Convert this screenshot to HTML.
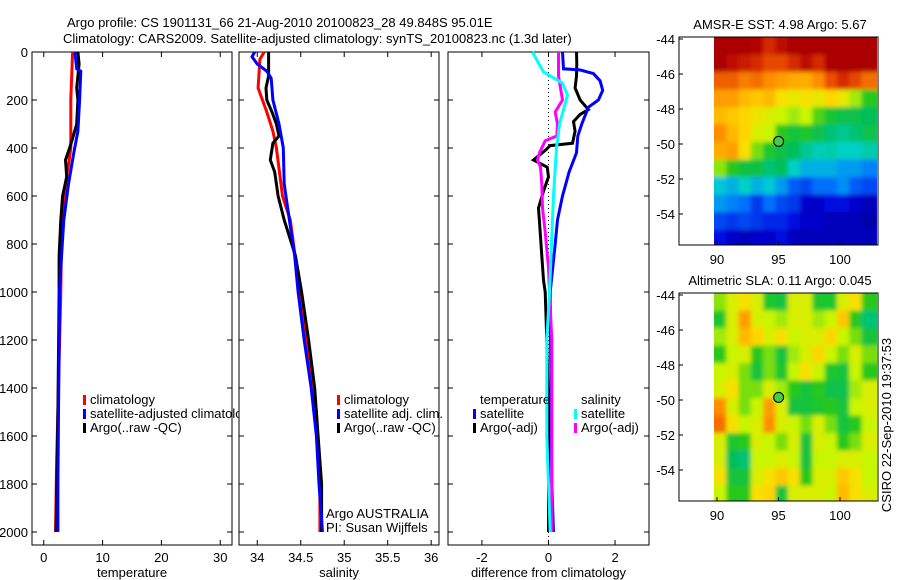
<!DOCTYPE html>
<html><head><meta charset="utf-8">
<style>
html,body{margin:0;padding:0;background:#fff;}
svg{display:block;font-family:"Liberation Sans",sans-serif;}
text{font-size:13px;fill:#000;}
</style></head>
<body>
<svg id="c" width="900" height="580" viewBox="0 0 900 580">
<text x="67" y="27">Argo profile: CS 1901131_66 21-Aug-2010 20100823_28 49.848S 95.01E</text>
<text x="63" y="43">Climatology: CARS2009. Satellite-adjusted climatology: synTS_20100823.nc (1.3d later)</text>
<defs>
<clipPath id="clipLeg1"><rect x="0" y="0" width="239" height="580"/></clipPath>
<clipPath id="clipMap1"><rect x="714" y="37" width="163" height="208"/></clipPath>
<clipPath id="clipMap2"><rect x="714" y="293" width="163" height="208"/></clipPath>
<filter id="blur" x="-10%" y="-10%" width="120%" height="120%"><feGaussianBlur stdDeviation="2.2"/></filter>
</defs>
<g id="layer"></g>
</svg>
<script>
// ---- data ----
const depthTicks=[0,200,400,600,800,1000,1200,1400,1600,1800,2000];
const tempTicks=[0,10,20,30];
const salTicks=[34,34.5,35,35.5,36];
const diffTicks=[-2,0,2];
const tClimD=[0,200,400,470,550,800,1000,1700,2000];
const tClimV=[4.9,4.6,4.6,4.2,3.7,3.0,2.9,2.2,2.0];
const tSatD=[0,70,80,200,330,420,550,700,900,1000,1500,1800,2000];
const tSatV=[5.3,5.6,6.3,6.1,5.8,5.1,4.2,3.4,2.9,2.7,2.5,2.4,2.4];
const tArgD=[0,50,150,200,300,360,400,450,520,600,700,850,1000,1500,2000];
const tArgV=[5.8,6.0,5.6,5.8,5.6,4.9,4.4,3.7,3.9,3.2,2.9,2.6,2.6,2.4,2.1];
const sClimD=[0,30,150,250,330,400,600,700,1000,1500,1800,2000];
const sClimV=[34.08,34.03,34.01,34.11,34.18,34.22,34.29,34.38,34.49,34.68,34.72,34.72];
const sSatD=[0,20,50,80,110,200,300,400,550,700,850,1000,1200,1400,1600,1800,2000];
const sSatV=[33.97,33.94,34.0,34.11,34.16,34.18,34.25,34.30,34.31,34.37,34.43,34.47,34.54,34.62,34.68,34.71,34.75];
const sArgD=[0,100,150,200,250,300,350,380,450,500,600,700,850,1000,1200,1400,1600,1800,2000];
const sArgV=[34.13,34.13,34.10,34.11,34.17,34.22,34.25,34.18,34.15,34.20,34.24,34.31,34.44,34.51,34.59,34.66,34.70,34.74,34.74];
const dTSatD=[0,70,75,90,120,160,200,230,300,350,420,500,600,700,800,1000,1800,2000];
const dTSatV=[0.42,0.45,0.96,1.35,1.55,1.63,1.5,1.2,1.0,0.88,0.84,0.62,0.42,0.27,0.2,0.05,0.1,0.15];
const dTArgD=[0,50,100,150,200,240,260,290,330,380,390,410,450,480,520,580,650,750,850,950,1000,1200,1500,2000];
const dTArgV=[0.84,0.85,0.84,0.8,0.95,1.2,0.95,0.75,0.8,0.72,0.05,-0.1,-0.45,-0.04,0,-0.15,-0.3,-0.25,-0.2,-0.15,-0.1,-0.05,0,0];
const dSSatD=[0,46,83,130,180,240,300,400,600,800,1000,1200,1600,2000];
const dSSatV=[-0.48,-0.3,-0.15,0.42,0.57,0.45,0.33,0.24,0.15,0.09,0.03,-0.05,-0.05,0.05];
const dSArgD=[0,100,200,250,300,350,370,420,450,480,550,650,750,900,1000,1200,2000];
const dSArgV=[0.3,0.3,0.42,0.2,0.27,0.25,-0.1,-0.27,-0.33,-0.24,-0.2,-0.18,-0.1,0,0.03,0.1,0.1];
const mapLatTicks=[-44,-46,-48,-50,-52,-54];
const mapLonTicks=[90,95,100];
const sstGrid=[
[.95,.95,.95,.93,.88,.92,.95,.95,.95,.95,.95,.95,.95],
[.95,.92,.9,.88,.85,.85,.88,.92,.88,.95,.95,.95,.95],
[.82,.82,.78,.8,.76,.74,.72,.72,.76,.84,.88,.85,.8],
[.74,.74,.7,.68,.7,.64,.62,.64,.62,.66,.62,.56,.5],
[.7,.68,.66,.63,.6,.58,.56,.58,.52,.47,.44,.44,.42],
[.76,.7,.66,.6,.58,.5,.46,.48,.44,.4,.38,.4,.44],
[.72,.74,.64,.54,.48,.44,.42,.38,.35,.36,.34,.34,.36],
[.55,.5,.45,.45,.4,.42,.34,.3,.3,.3,.28,.28,.26],
[.32,.3,.34,.3,.32,.28,.22,.2,.24,.24,.27,.22,.2],
[.28,.26,.24,.18,.24,.2,.18,.1,.1,.13,.13,.1,.08],
[.2,.18,.2,.18,.16,.16,.13,.1,.1,.08,.08,.08,.06],
[.13,.1,.08,.1,.1,.13,.08,.08,.08,.08,.08,.08,.08]];
const slaGrid=[
[.55,.6,.64,.6,.48,.46,.6,.6,.48,.48,.6,.64,.5],
[.48,.6,.74,.6,.58,.56,.6,.6,.56,.58,.68,.5,.4],
[.56,.6,.7,.66,.6,.64,.58,.6,.6,.66,.58,.54,.46],
[.5,.58,.6,.5,.54,.46,.56,.6,.66,.58,.54,.6,.54],
[.58,.6,.54,.46,.54,.48,.58,.64,.58,.48,.46,.58,.5],
[.6,.64,.54,.54,.6,.56,.5,.46,.5,.44,.44,.56,.6],
[.76,.6,.54,.58,.74,.6,.46,.46,.48,.5,.46,.58,.6],
[.8,.64,.58,.6,.76,.6,.58,.54,.6,.54,.46,.5,.58],
[.6,.48,.5,.6,.58,.54,.6,.46,.6,.58,.5,.54,.6],
[.6,.42,.4,.58,.58,.6,.58,.46,.58,.58,.6,.6,.58],
[.64,.46,.46,.6,.64,.68,.64,.5,.6,.6,.68,.64,.58],
[.58,.5,.5,.64,.66,.46,.6,.6,.6,.58,.7,.64,.6]];
const floatLon=95.01, floatLat=-49.85;

// ---- helpers ----
const NS='http://www.w3.org/2000/svg';
const layer=document.getElementById('layer');
function mk(tag,attrs,parent){const e=document.createElementNS(NS,tag);for(const k in attrs)e.setAttribute(k,attrs[k]);(parent||layer).appendChild(e);return e;}
const yTop=52, yBot=545;
function yD(d){return yTop+d*0.24;}
function lin(d0,d1,r0,r1){return v=>r0+(v-d0)*(r1-r0)/(d1-d0);}
const panels=[
 {x0:32,x1:232,sx:lin(-2,32,32,232),ticks:tempTicks,label:'temperature',name:'temperature-panel',ylab:true},
 {x0:239,x1:439,sx:lin(33.79,36.09,239,439),ticks:salTicks,label:'salinity',name:'salinity-panel'},
 {x0:448,x1:649,sx:lin(-3.02,3.02,448,649),ticks:diffTicks,label:'difference from climatology',name:'difference-panel'}];
panels.forEach((p,i)=>{
 const g=mk('g',{});
 
 
 const r=mk('rect',{x:p.x0,y:yTop,width:p.x1-p.x0,height:yBot-yTop,fill:'none',stroke:'#000','stroke-width':1},g);
 
 
 depthTicks.forEach(d=>{
  const y=yD(d);
  const t1=mk('line',{x1:p.x0,x2:p.x0+5,y1:y,y2:y,stroke:'#000'},g);
  
  
  const t2=mk('line',{x1:p.x1,x2:p.x1-5,y1:y,y2:y,stroke:'#000'},g);
  
  
  if(p.ylab){const t=mk('text',{x:28,y:y+5,'text-anchor':'end'},g);t.textContent=d;
   
   }
 });
 p.ticks.forEach(v=>{
  const x=p.sx(v);
  const a=mk('line',{x1:x,x2:x,y1:yTop,y2:yTop+5,stroke:'#000'},g);
  
  
  const b=mk('line',{x1:x,x2:x,y1:yBot,y2:yBot-5,stroke:'#000'},g);
  
  
  const t=mk('text',{x:x,y:562,'text-anchor':'middle'},g);t.textContent=(v<0?'-':'')+Math.abs(v);
  
  
 });
 const xl=mk('text',{x:(p.x0+p.x1)/2,y:577,'text-anchor':'middle'},g);xl.textContent=p.label;
 
 
});
function series(p,D,V,color,name){
 const pts=D.map((d,i)=>p.sx(V[i]).toFixed(1)+','+yD(d).toFixed(1)).join(' ');
 const l=mk('polyline',{points:pts,fill:'none',stroke:color,'stroke-width':3,'stroke-linejoin':'miter'});
 
 
}
const zx=panels[2].sx(0);
const zl=mk('line',{x1:zx,x2:zx,y1:yTop,y2:yBot,stroke:'#000','stroke-dasharray':'1,3'});


series(panels[0],tClimD,tClimV,'#f00','temp-climatology-line');
series(panels[0],tArgD,tArgV,'#000','temp-argo-line');
series(panels[0],tSatD,tSatV,'#00f','temp-satellite-line');
series(panels[1],sClimD,sClimV,'#f00','sal-climatology-line');
series(panels[1],sArgD,sArgV,'#000','sal-argo-line');
series(panels[1],sSatD,sSatV,'#00f','sal-satellite-line');
series(panels[2],dTArgD,dTArgV,'#000','dtemp-argo-line');
series(panels[2],dTSatD,dTSatV,'#00f','dtemp-satellite-line');
series(panels[2],dSArgD,dSArgV,'#f0f','dsal-argo-line');
series(panels[2],dSSatD,dSSatV,'#0ff','dsal-satellite-line');

function legend(x,y,items,clip,name){
 const g=mk('g',clip?{'clip-path':'url(#clipLeg1)'}:{});
 
 
 items.forEach((it,i)=>{
  const yy=y+i*14;
  if(it[0]){const m=mk('rect',{x:x,y:yy-9,width:3,height:10,fill:it[0]},g);
   
   }
  const t=mk('text',{x:x+7,y:yy},g);t.textContent=it[1];
  
  
 });
}
legend(83,404,[['#f00','climatology'],['#00f','satellite-adjusted climatology'],['#000','Argo(..raw -QC)']],true,'temperature-legend');
legend(337,404,[['#f00','climatology'],['#00f','satellite adj. clim.'],['#000','Argo(..raw -QC)']],false,'salinity-legend');
legend(473,404,[[null,'temperature'],['#00f','satellite'],['#000','Argo(-adj)']],false,'diff-temp-legend');
legend(574,404,[[null,'salinity'],['#0ff','satellite'],['#f0f','Argo(-adj)']],false,'diff-sal-legend');
const a1=mk('text',{x:326,y:518});a1.textContent='Argo AUSTRALIA';


const a2=mk('text',{x:326,y:532});a2.textContent='PI: Susan Wijffels';



// ---- maps ----
const cmapStops=[[0,0,0,120],[0.12,0,0,220],[0.25,0,120,255],[0.33,0,210,210],[0.42,0,190,90],[0.5,40,200,30],[0.58,200,245,0],[0.65,255,220,0],[0.75,255,150,0],[0.85,230,70,0],[0.93,180,0,0],[1,150,0,0]];
function cmap(v){
 v=Math.max(0,Math.min(1,v));
 for(let i=1;i<cmapStops.length;i++){
  const a=cmapStops[i-1],b=cmapStops[i];
  if(v<=b[0]){const t=(v-a[0])/(b[0]-a[0]);
   return 'rgb('+[1,2,3].map(k=>Math.round(a[k]+(b[k]-a[k])*t)).join(',')+')';}
 }
 return 'rgb(150,0,0)';
}
function map(y0,y1,grid,title,name,clipId){
 const x0=679,x1=878;
 const sx=lin(90,95,717,778.5);
 const sy=lin(-44,-54,39+(y0-37),214+(y0-37));
 const g=mk('g',{});
 
 
 const cg=mk('g',{'clip-path':'url(#'+clipId+')'},g);
 
 
 const hg=mk('g',{filter:'url(#blur)'},cg);
 
 
 grid.forEach((row,ri)=>row.forEach((v,ci)=>{
  const lx=89.75+ci, ly=-44+(-ri);
  const cx=sx(lx), cy=sy(ly)-2;
  const r=mk('rect',{x:(ci===0?cx-6:cx).toFixed(1),y:(ri===0?cy-6:cy).toFixed(1),width:(sx(lx+1)-cx+0.5+(ci===0||ci===row.length-1?6:0)).toFixed(1),height:(sy(ly-1)-sy(ly)+0.5+(ri===0||ri===grid.length-1?6:0)).toFixed(1),fill:cmap(v)},hg);
  
  
 }));
 const fr=mk('rect',{x:x0,y:y0,width:x1-x0,height:y1-y0,fill:'none',stroke:'#000'},g);
 
 
 mapLatTicks.forEach(v=>{
  const y=sy(v);
  const t=mk('text',{x:675,y:y+5,'text-anchor':'end','font-size':'12'},g);t.textContent=v;
  
  
  const k=mk('line',{x1:x0,x2:x0+4,y1:y,y2:y,stroke:'#000'},g);
  
  
 });
 mapLonTicks.forEach(v=>{
  const x=sx(v);
  const t=mk('text',{x:x,y:y1+19,'text-anchor':'middle','font-size':'12'},g);t.textContent=v;
  
  
  const k=mk('line',{x1:x,x2:x,y1:y1,y2:y1-4,stroke:'#000'},g);
  
  
 });
 const c=mk('circle',{cx:sx(floatLon),cy:sy(floatLat),r:5,fill:'#4c4',stroke:'#000'},g);
 
 
 const tt=mk('text',{x:780,y:y0-8,'text-anchor':'middle','font-size':'12'},g);tt.textContent=title;
 
 
}
map(37,245,sstGrid,'AMSR-E SST: 4.98 Argo: 5.67','sst-map','clipMap1');
map(293,501,slaGrid,'Altimetric SLA: 0.11 Argo: 0.045','sla-map','clipMap2');
const cs=mk('text',{x:891,y:425,transform:'rotate(-90 891 425)','text-anchor':'middle','font-size':'12'});
cs.textContent='CSIRO 22-Sep-2010 19:37:53';


</script>
</body></html>
